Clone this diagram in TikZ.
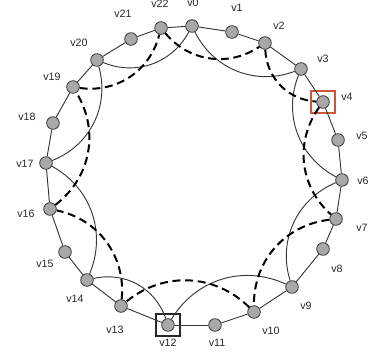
\documentclass[tikz,border=0pt]{standalone}
\usepackage{fontspec}
\setmainfont{Liberation Sans}
\definecolor{nodegray}{RGB}{168,168,168}
\definecolor{edgegray}{RGB}{55,55,55}
\definecolor{boxred}{RGB}{205,85,60}
\tikzset{
  vert/.style={circle,draw=edgegray,fill=nodegray,line width=0.6pt,inner sep=0pt,minimum size=9.5pt},
  vlab/.style={font=\fontsize{8}{9}\selectfont,text=black!85,inner sep=0pt},
  ring/.style={edgegray,line width=0.7pt},
  chord/.style={edgegray,line width=0.7pt,bend right=42},
  dchord/.style={black,line width=1.5pt,dash pattern=on 6pt off 3.5pt,bend right=42},
  markbox/.style={draw,line width=0.8pt,minimum width=18pt,minimum height=16.5pt,inner sep=0pt}
}
\begin{document}
\begin{tikzpicture}[x=0.75pt,y=-0.75pt]
    \useasboundingbox (0,0) rectangle (379,352);
    %vertici e etichette
    \foreach \n/\x/\y/\lx/\ly in {0/192/26/193/3, 1/232/32/237/8, 2/265/43/279/26,
      3/301/69/323/59, 4/323/102/347/97, 5/338/140/362/136, 6/342/180/363/181,
      7/336/219/362/228, 8/323/249/337/269, 9/292/287/306/306, 10/254/312/271/331,
      11/215/325/217/343, 12/168/325/168/343, 13/121/306/115/330, 14/87/280/75/299,
      15/65/252/45/264, 16/50/209/26/214, 17/46/163/25/164, 18/53/123/27/117,
      19/73/87/52/77, 20/97/60/79/43, 21/131/39/123/14, 22/161/28/160/4} {
      \node[vert] (v\n) at (\x,\y) {};
      \node[vlab] (l\n) at (\lx,\ly) {v\n};
    }
    %riquadri
    \node[markbox,draw=boxred] (box4) at (v4) {};
    \node[markbox,draw=black!85] (box12) at (v12) {};
    %anello esterno
    \foreach \i [evaluate=\i as \j using {int(mod(\i+1,23))}] in {0,...,22} {
      \draw[ring] (v\i) -- (v\j);
    }
    %corde continue
    \foreach \a/\b in {20/0,0/3,3/6,6/9,9/12,12/14,14/17,17/20} {
      \draw[chord] (v\a) to (v\b);
    }
    %corde tratteggiate
    \foreach \a/\b in {22/2,2/4,4/7,7/10,10/13,13/16,16/19,19/22} {
      \draw[dchord] (v\a) to (v\b);
    }
\end{tikzpicture}
\end{document}
